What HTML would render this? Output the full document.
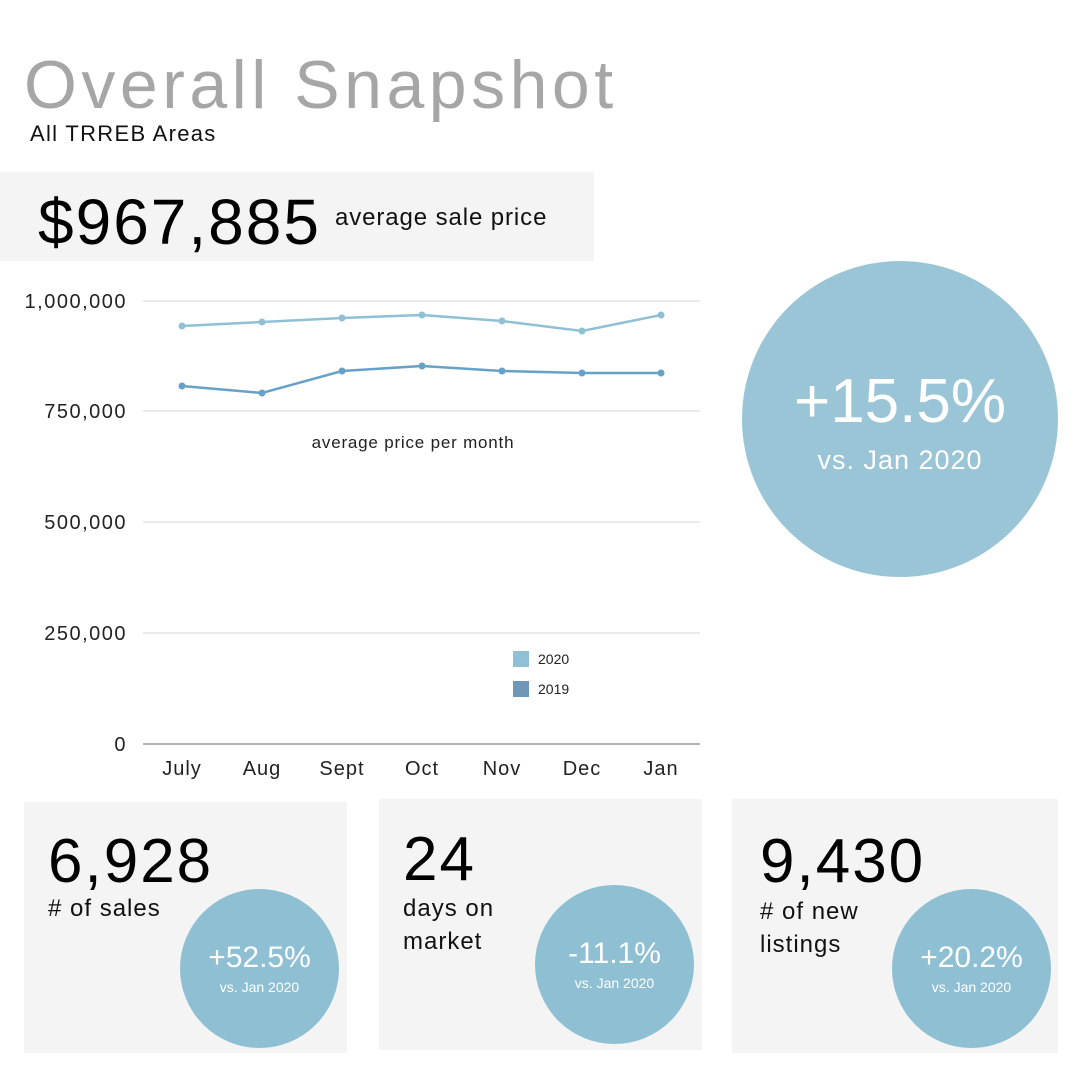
<!DOCTYPE html>
<html><head><meta charset="utf-8"><style>
body{margin:0;width:1080px;height:1080px;background:#fff;position:relative;font-family:"Liberation Sans",sans-serif;overflow:hidden}
.a{position:absolute;white-space:nowrap}
.box{position:absolute;background:#f4f4f4}
.c{position:absolute;border-radius:50%;background:#8fbfd3;color:#fff;text-align:center}
</style></head><body>
<div class="a" style="left:24px;top:46px;font-size:68px;color:#a6a6a6;letter-spacing:4.5px">Overall Snapshot</div>
<div class="a" style="left:30px;top:121px;font-size:22px;color:#111;letter-spacing:1.3px">All TRREB Areas</div>
<div class="box" style="left:0;top:172px;width:594px;height:89px"></div>
<div class="a" style="left:38px;top:185px;font-size:64px;color:#000;letter-spacing:2px">$967,885</div>
<div class="a" style="left:335px;top:204px;font-size:24px;color:#111;letter-spacing:0.9px">average sale price</div>

<svg class="a" style="left:0;top:280px" width="720" height="510" viewBox="0 280 720 510">
<g stroke="#d6d6d6" stroke-width="1">
<line x1="143" x2="700" y1="301" y2="301"/><line x1="143" x2="700" y1="411" y2="411"/>
<line x1="143" x2="700" y1="522" y2="522"/><line x1="143" x2="700" y1="633" y2="633"/>
</g>
<line x1="143" x2="700" y1="744" y2="744" stroke="#999" stroke-width="1.5"/>
<g font-size="20" fill="#222" text-anchor="end" font-family="Liberation Sans" letter-spacing="1.5">
<text x="127" y="308">1,000,000</text><text x="127" y="418">750,000</text>
<text x="127" y="529">500,000</text><text x="127" y="640">250,000</text><text x="127" y="751">0</text>
</g>
<g font-size="20" fill="#222" text-anchor="middle" font-family="Liberation Sans" letter-spacing="1">
<text x="182" y="775">July</text><text x="262" y="775">Aug</text><text x="342" y="775">Sept</text>
<text x="422" y="775">Oct</text><text x="502" y="775">Nov</text><text x="582" y="775">Dec</text><text x="661" y="775">Jan</text>
</g>
<text x="413" y="448" font-size="17" fill="#222" text-anchor="middle" font-family="Liberation Sans" letter-spacing="0.8">average price per month</text>
<polyline fill="none" stroke="#8fc0d6" stroke-width="2.5" points="182,326 262,322 342,318 422,315 502,321 582,331 661,315"/>
<g fill="#8fc0d6"><circle cx="182" cy="326" r="3.5"/><circle cx="262" cy="322" r="3.5"/><circle cx="342" cy="318" r="3.5"/><circle cx="422" cy="315" r="3.5"/><circle cx="502" cy="321" r="3.5"/><circle cx="582" cy="331" r="3.5"/><circle cx="661" cy="315" r="3.5"/></g>
<polyline fill="none" stroke="#66a1c8" stroke-width="2.5" points="182,386 262,393 342,371 422,366 502,371 582,373 661,373"/>
<g fill="#66a1c8"><circle cx="182" cy="386" r="3.5"/><circle cx="262" cy="393" r="3.5"/><circle cx="342" cy="371" r="3.5"/><circle cx="422" cy="366" r="3.5"/><circle cx="502" cy="371" r="3.5"/><circle cx="582" cy="373" r="3.5"/><circle cx="661" cy="373" r="3.5"/></g>
<rect x="513" y="651" width="16" height="16" fill="#8fc0d6"/><text x="538" y="664" font-size="14" fill="#222" font-family="Liberation Sans">2020</text>
<rect x="513" y="681" width="16" height="16" fill="#7197b8"/><text x="538" y="694" font-size="14" fill="#222" font-family="Liberation Sans">2019</text>
</svg>

<div class="c" style="left:742px;top:261px;width:316px;height:316px;background:#9ac5d6">
<div style="margin-top:105px;font-size:62px">+15.5%</div>
<div style="font-size:27px;margin-top:8px;letter-spacing:1px">vs. Jan 2020</div></div>

<div class="box" style="left:24px;top:802px;width:323px;height:251px"></div>
<div class="box" style="left:379px;top:799px;width:323px;height:251px"></div>
<div class="box" style="left:732px;top:799px;width:326px;height:254px"></div>

<div class="a" style="left:48px;top:826px;font-size:62px;color:#000;letter-spacing:2px">6,928</div>
<div class="a" style="left:48px;top:895px;font-size:24px;color:#111;letter-spacing:1px">#&nbsp;of sales</div>
<div class="a" style="left:403px;top:824px;font-size:62px;color:#000;letter-spacing:2px">24</div>
<div class="a" style="left:403px;top:892px;font-size:24px;color:#111;line-height:33px;white-space:normal;width:120px;letter-spacing:1px">days on market</div>
<div class="a" style="left:760px;top:826px;font-size:62px;color:#000;letter-spacing:2px">9,430</div>
<div class="a" style="left:760px;top:895px;font-size:24px;color:#111;line-height:33px;white-space:normal;width:130px;letter-spacing:1px"># of new listings</div>

<div class="c" style="left:180px;top:889px;width:159px;height:159px"><div style="margin-top:52px;font-size:30px">+52.5%</div><div style="font-size:14px;margin-top:4px">vs. Jan 2020</div></div>
<div class="c" style="left:535px;top:885px;width:159px;height:159px"><div style="margin-top:52px;font-size:30px">-11.1%</div><div style="font-size:14px;margin-top:4px">vs. Jan 2020</div></div>
<div class="c" style="left:892px;top:889px;width:159px;height:159px"><div style="margin-top:52px;font-size:30px">+20.2%</div><div style="font-size:14px;margin-top:4px">vs. Jan 2020</div></div>
</body></html>
